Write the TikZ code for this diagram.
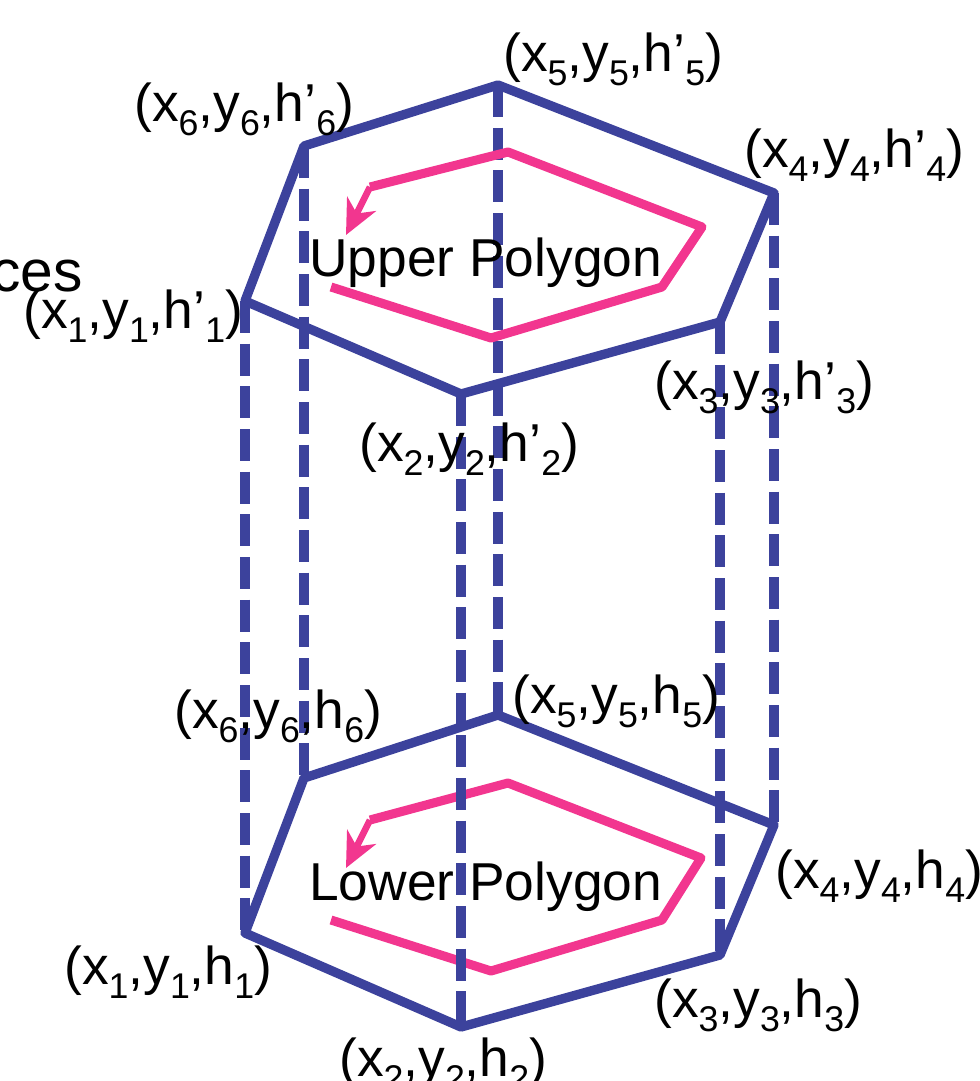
\documentclass[tikz,border=0pt]{standalone}
\usepackage{fontspec}
\setmainfont{Liberation Sans}
\usetikzlibrary{arrows.meta}
\definecolor{edgeblue}{HTML}{3C429C}
\definecolor{flowpink}{HTML}{F2368F}
\newcommand{\idx}[1]{\raisebox{-10.8pt}{\fontsize{26.8}{26.8}\selectfont #1}}
\newcommand{\vlabel}[3]{(x\idx{#1},y\idx{#1},h#3\idx{#1})}
\tikzset{
  outline/.style={draw=edgeblue,line width=7pt,line join=round},
  pillar/.style={draw=edgeblue,line width=8pt,dash pattern=on 24pt off 8pt},
  flow/.style={draw=flowpink,line width=6.8pt,line join=round},
  flowhead/.style={draw=flowpink,line width=5pt,-{Stealth[length=26pt,width=24pt,inset=8pt]}},
  lbl/.style={inner sep=0pt,anchor=base west,font=\fontsize{40}{40}\selectfont}
}
\begin{document}
\begin{tikzpicture}[x=0.75pt,y=-0.75pt]
\useasboundingbox (0,0) rectangle (979,1081);
\clip (0,0) rectangle (979,1081);
% upper polygon vertices
\coordinate (u1) at (245,301);
\coordinate (u2) at (461,394);
\coordinate (u3) at (720,322);
\coordinate (u4) at (774,193);
\coordinate (u5) at (498,85);
\coordinate (u6) at (304,146);
% lower polygon vertices
\coordinate (l1) at (245,933);
\coordinate (l2) at (461,1027);
\coordinate (l3) at (720,955);
\coordinate (l4) at (774,825);
\coordinate (l5) at (498,715);
\coordinate (l6) at (304,778);
% pink flows
\coordinate (pa1) at (331,287);
\coordinate (pa2) at (491,338);
\coordinate (pa3) at (662,287);
\coordinate (pa4) at (702,227);
\coordinate (pa5) at (508,152);
\coordinate (pa6) at (370,187);
\coordinate (pa7) at (346,235);
\coordinate (pb1) at (331,920);
\coordinate (pb2) at (491,971);
\coordinate (pb3) at (662,920);
\coordinate (pb4) at (701,858);
\coordinate (pb5) at (508,783);
\coordinate (pb6) at (370,820);
\coordinate (pb7) at (346,868);
\draw[pillar] (u5) -- (l5);
\draw[flow] (pa1) -- (pa2) -- (pa3) -- (pa4) -- (pa5) -- (pa6);
\draw[flowhead] (pa6) -- (pa7);
\draw[flow] (pb1) -- (pb2) -- (pb3) -- (pb4) -- (pb5) -- (pb6);
\draw[flowhead] (pb6) -- (pb7);
\draw[pillar] (u1) -- (l1);
\draw[pillar] (u6) -- (l6);
\draw[pillar] (u2) -- (l2);
\draw[pillar] (u3) -- (l3);
\draw[pillar] (u4) -- (l4);
\draw[outline] (u1) -- (u2) -- (u3) -- (u4) -- (u5) -- (u6) -- cycle;
\draw[outline] (l1) -- (l2) -- (l3) -- (l4) -- (l5) -- (l6) -- cycle;
% labels
\node[lbl,anchor=base east,font=\fontsize{44}{44}\selectfont] (frag) at (83,291) {ces};
\node[lbl] (upper) at (309,276) {Upper Polygon};
\node[lbl] (lower) at (309,900) {Lower Polygon};
\node[lbl] (tu6) at (134,121) {\vlabel{6}{}{’}};
\node[lbl] (tu5) at (503,71) {\vlabel{5}{}{’}};
\node[lbl] (tu4) at (744,167) {\vlabel{4}{}{’}};
\node[lbl] (tu1) at (23,328) {\vlabel{1}{}{’}};
\node[lbl] (tu2) at (359,461) {\vlabel{2}{}{’}};
\node[lbl] (tu3) at (654,399) {\vlabel{3}{}{’}};
\node[lbl] (tl6) at (174,728) {\vlabel{6}{}{}};
\node[lbl] (tl5) at (512,713) {\vlabel{5}{}{}};
\node[lbl] (tl4) at (775,888) {\vlabel{4}{}{}};
\node[lbl] (tl1) at (64,984) {\vlabel{1}{}{}};
\node[lbl] (tl3) at (654,1017) {\vlabel{3}{}{}};
\node[lbl] (tl2) at (339,1076) {\vlabel{2}{}{}};
\end{tikzpicture}
\end{document}
